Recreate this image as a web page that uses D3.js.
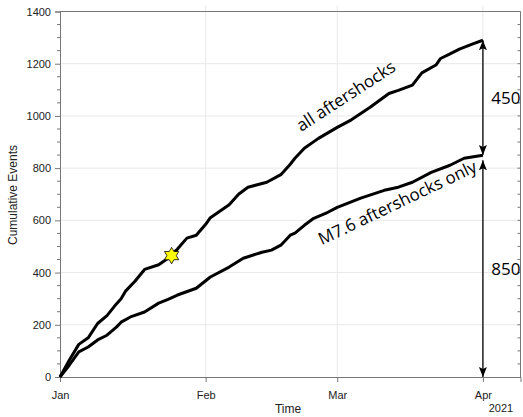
<!DOCTYPE html>
<html>
<head>
<meta charset="utf-8">
<script src="https://cdn.jsdelivr.net/npm/d3@7"></script>
<style>
body { margin: 0; background: #fff; }
.tick text { font: 11px "Liberation Sans", Arial, sans-serif; fill: #222; }
.anno { font-family: "Open Sans", sans-serif; fill: #000; }
</style>
</head>
<body>
<div id="chart"></div>
<script>
// all aftershocks
var allDates = ["2021-01-01","2021-01-03","2021-01-05","2021-01-07","2021-01-09","2021-01-11","2021-01-13","2021-01-14",
  "2021-01-15","2021-01-17","2021-01-19","2021-01-22","2021-01-24","2021-01-26","2021-01-28","2021-01-30","2021-02-01",
  "2021-02-02","2021-02-04","2021-02-06","2021-02-08","2021-02-10","2021-02-14","2021-02-17","2021-02-19","2021-02-20",
  "2021-02-22","2021-02-25","2021-03-01","2021-03-04","2021-03-08","2021-03-12","2021-03-14","2021-03-17","2021-03-19",
  "2021-03-22","2021-03-23","2021-03-25","2021-03-27","2021-03-30","2021-04-01"];
var allValues = [0,65,125,150,205,235,280,300,
  330,368,412,430,455,490,532,543,585,
  610,635,660,700,727,746,775,815,838,
  876,914,956,985,1033,1086,1098,1118,1165,
  1195,1220,1238,1256,1277,1290];

// M7.6 aftershocks only
var m76Dates = ["2021-01-01","2021-01-03","2021-01-05","2021-01-07","2021-01-09","2021-01-11","2021-01-13","2021-01-14",
  "2021-01-16","2021-01-19","2021-01-22","2021-01-24","2021-01-26","2021-01-30","2021-02-02","2021-02-06","2021-02-09",
  "2021-02-13","2021-02-15","2021-02-17","2021-02-19","2021-02-20","2021-02-22","2021-02-24","2021-02-27","2021-03-01",
  "2021-03-06","2021-03-11","2021-03-14","2021-03-17","2021-03-21","2021-03-25","2021-03-28","2021-04-01"];
var m76Values = [0,46,96,115,142,160,191,210,
  230,249,283,297,314,340,383,421,455,
  478,486,505,543,551,581,608,631,650,
  685,715,727,746,784,811,838,849];

var yTicks = [0,200,400,600,800,1000,1200,1400];
var mainshock = {date: "2021-01-24T18:00:00Z", value: 465};
var arrowDate = "2021-04-01";
var arrowFrom = [1290, 830];
var arrowTo = [850, 0];
var arrowLabels = ["450", "850"];

var W = 523, H = 417;
var margin = {top: 11.5, right: 2, bottom: 40, left: 60};

var svg = d3.select("#chart").append("svg")
  .attr("width", W).attr("height", H);

var parse = function(s) { return new Date(s.length > 10 ? s : s + "T00:00:00Z"); };

var x = d3.scaleUtc()
  .domain([parse("2021-01-01"), parse("2021-04-09")])
  .range([margin.left, W - margin.right - 0.5]);
var y = d3.scaleLinear().domain([0, 1400]).range([H - margin.bottom, margin.top]);

var months = d3.utcMonth.range(parse("2021-01-01"), parse("2021-04-02"));

// grid
svg.append("g").selectAll("line").data(yTicks.slice(1, -1)).enter().append("line")
  .attr("x1", margin.left).attr("x2", x.range()[1])
  .attr("y1", function(d) { return y(d); }).attr("y2", function(d) { return y(d); })
  .attr("stroke", "#e8e8e8").attr("stroke-width", 1);
svg.append("g").selectAll("line").data(months.slice(1)).enter().append("line")
  .attr("x1", function(d) { return x(d); }).attr("x2", function(d) { return x(d); })
  .attr("y1", y(0)).attr("y2", y(1400) - 6)
  .attr("stroke", "#e8e8e8").attr("stroke-width", 1);

// minor ticks every 50
var minor = d3.range(50, 1400, 50).filter(function(d) { return d % 200 !== 0; });
svg.append("g").selectAll("line").data(minor).enter().append("line")
  .attr("x1", margin.left - 3).attr("x2", margin.left)
  .attr("y1", function(d) { return y(d); }).attr("y2", function(d) { return y(d); })
  .attr("stroke", "#777");
svg.append("g").selectAll("line").data(d3.range(50, 1400, 50)).enter().append("line")
  .attr("x1", x.range()[1] - 3).attr("x2", x.range()[1])
  .attr("y1", function(d) { return y(d); }).attr("y2", function(d) { return y(d); })
  .attr("stroke", "#777");

// axes
var yAxis = svg.append("g").attr("transform", "translate(" + margin.left + ",0)")
  .call(d3.axisLeft(y).tickValues(yTicks).tickFormat(d3.format("d")).tickSize(5).tickPadding(4));
var xAxis = svg.append("g").attr("transform", "translate(0," + y(0) + ")")
  .call(d3.axisBottom(x).tickValues(months).tickFormat(d3.utcFormat("%b")).tickSize(5).tickPadding(9));
[yAxis, xAxis].forEach(function(a) {
  a.select(".domain").attr("stroke", "#777");
  a.selectAll(".tick line").attr("stroke", "#777");
});

// box top/right
svg.append("line").attr("x1", margin.left).attr("x2", x.range()[1])
  .attr("y1", y(1400)).attr("y2", y(1400)).attr("stroke", "#777");
svg.append("line").attr("x1", x.range()[1]).attr("x2", x.range()[1])
  .attr("y1", y(1400)).attr("y2", y(0)).attr("stroke", "#777");

// axis titles
var labelFont = '"Liberation Sans", Arial, sans-serif';
svg.append("text").attr("transform", "translate(17," + 195 + ") rotate(-90)")
  .attr("text-anchor", "middle").style("font", "12px " + labelFont).style("fill", "#222")
  .text("Cumulative Events");
svg.append("text").attr("x", 288).attr("y", 413).attr("text-anchor", "middle")
  .style("font", "12px " + labelFont).style("fill", "#222").text("Time");
svg.append("text").attr("x", 501).attr("y", 412).attr("text-anchor", "middle")
  .style("font", "11px " + labelFont).style("fill", "#222").text("2021");

// series
var line = d3.line().x(function(d) { return x(d[0]); }).y(function(d) { return y(d[1]); });
var series = [
  d3.zip(allDates.map(parse), allValues),
  d3.zip(m76Dates.map(parse), m76Values)
];
svg.append("g").selectAll("path").data(series).enter().append("path")
  .attr("d", line).attr("fill", "none").attr("stroke", "#000")
  .attr("stroke-width", 3).attr("stroke-linejoin", "round");

// mainshock star (hexagram)
var hexagram = {
  draw: function(ctx, size) {
    var R = Math.sqrt(size) / 1.8, r = R / Math.sqrt(3);
    for (var i = 0; i < 12; i++) {
      var a = i * Math.PI / 6 - Math.PI / 2, rr = i % 2 ? r : R;
      if (i === 0) ctx.moveTo(rr * Math.cos(a), rr * Math.sin(a));
      else ctx.lineTo(rr * Math.cos(a), rr * Math.sin(a));
    }
    ctx.closePath();
  }
};
svg.append("path")
  .attr("d", d3.symbol().type(hexagram).size(220)())
  .attr("transform", "translate(" + x(parse(mainshock.date)) + "," + y(mainshock.value) + ")")
  .attr("fill", "#ffff00").attr("stroke", "#000").attr("stroke-width", 0.8);

// curve labels
svg.append("text").attr("class", "anno")
  .attr("transform", "translate(349,101) rotate(-33)")
  .attr("text-anchor", "middle").style("font-size", "17px").text("all aftershocks");
svg.append("text").attr("class", "anno")
  .attr("transform", "translate(400,208) rotate(-25.5)")
  .attr("text-anchor", "middle").style("font-size", "17px").text("M7.6 aftershocks only");

// difference arrows
var defs = svg.append("defs");
defs.append("marker").attr("id", "head").attr("viewBox", "0 0 10 10")
  .attr("refX", 10).attr("refY", 5).attr("markerWidth", 10).attr("markerHeight", 10)
  .attr("markerUnits", "userSpaceOnUse").attr("orient", "auto-start-reverse")
  .append("path").attr("d", "M0,1 L10,5 L0,9 L2,5 Z").attr("fill", "#000");

var ax = x(parse(arrowDate));
arrowLabels.forEach(function(lab, i) {
  svg.append("line").attr("x1", ax).attr("x2", ax)
    .attr("y1", y(arrowFrom[i])).attr("y2", y(arrowTo[i]))
    .attr("stroke", "#000").attr("stroke-width", 1.3)
    .attr("marker-start", "url(#head)").attr("marker-end", "url(#head)");
  svg.append("text").attr("class", "anno")
    .attr("x", ax + 23).attr("y", (y(arrowFrom[i]) + y(arrowTo[i])) / 2 + 6)
    .attr("text-anchor", "middle").style("font-size", "17px").text(lab);
});
</script>
</body>
</html>
